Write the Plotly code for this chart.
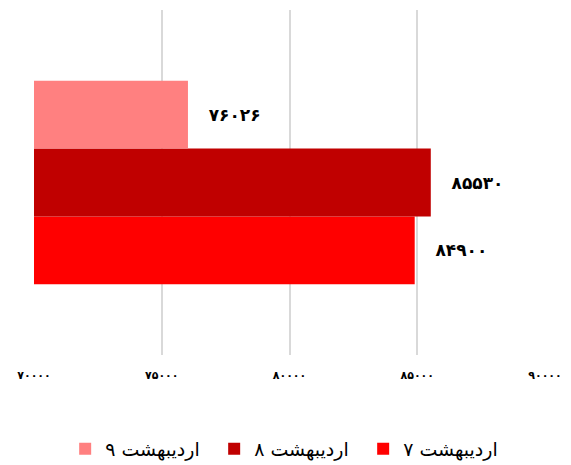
import plotly.graph_objects as go

category = ["اردیبهشت"]
series_names = ["۷ اردیبهشت", "۸ اردیبهشت", "۹ اردیبهشت"]
series_values = [84900, 85530, 76026]
series_colors = ["#FF0000", "#C00000", "#FF8080"]
tick_values = [70000, 75000, 80000, 85000, 90000]

PERSIAN = str.maketrans("0123456789", "۰۱۲۳۴۵۶۷۸۹")
def fa(n):
    return str(n).translate(PERSIAN)

fig = go.Figure()
for name, val, col in zip(series_names, series_values, series_colors):
    fig.add_trace(go.Bar(
        y=category, x=[val], name=name, orientation="h",
        marker=dict(color=col, line=dict(width=0)),
        text=["\u00a0\u00a0\u00a0" + fa(val)], textposition="outside",
        textfont=dict(family="DejaVu Sans", size=17, color="#000000", weight="bold"),
        cliponaxis=False,
    ))

fig.update_layout(
    width=571, height=465,
    margin=dict(l=34, r=26, t=10, b=110, autoexpand=False),
    paper_bgcolor="white", plot_bgcolor="white",
    barmode="group", bargap=0.41, bargroupgap=0,
    showlegend=True,
    legend=dict(orientation="h", traceorder="reversed",
                x=0.061, xanchor="left", y=-0.272, yanchor="middle",
                entrywidth=104, entrywidthmode="pixels",
                font=dict(family="DejaVu Sans", size=19, color="#000000"),
                itemsizing="constant"),
    xaxis=dict(range=[70000, 90000], tickvals=tick_values,
               ticktext=[fa(v) for v in tick_values],
               showgrid=True, gridcolor="#D9D9D9", gridwidth=1.5,
               zeroline=False, showline=False, ticks="",
               ticklabelstandoff=12, automargin=False,
               tickfont=dict(family="DejaVu Sans", size=11, color="#000000", weight="bold")),
    yaxis=dict(showticklabels=False, showgrid=False, zeroline=False, showline=False,
               automargin=False),
)

fig.write_html("out.html", post_script="document.body.style.margin='0';",
               config={"displayModeBar": False})
